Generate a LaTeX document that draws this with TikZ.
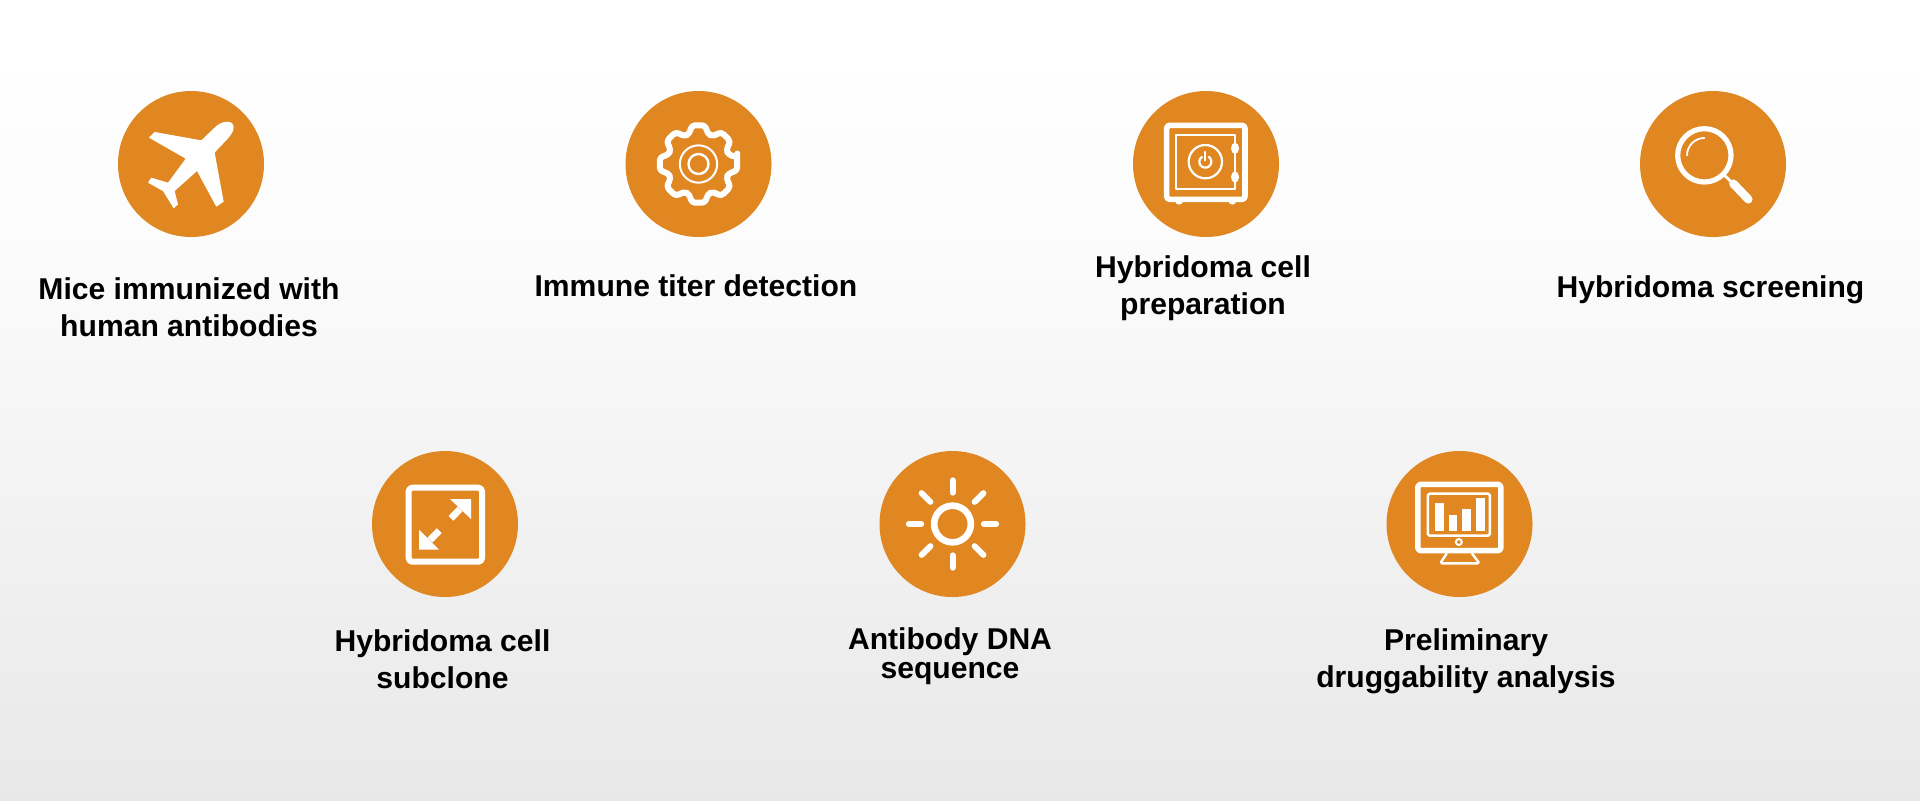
\documentclass[tikz,border=0pt]{standalone}
\usepackage{fontspec}
\setmainfont{Liberation Sans}
\definecolor{dotorange}{HTML}{E08722}
\pgfdeclareverticalshading{bgfade}{100bp}{color(0bp)=(black!9); color(25bp)=(black!9); color(48bp)=(black!4); color(59bp)=(black!1.5); color(72bp)=(white); color(100bp)=(white)}
\tikzset{
  dotnode/.style={circle,fill=dotorange,minimum size=146pt*0.5,inner sep=0pt},
  labelnode/.style={align=center,font=\fontsize{15.05pt}{18.5pt}\selectfont\bfseries,text=black,inner sep=0pt},
  icon/.style={shift={(#1)},x=0.16667pt,y=-0.16667pt,white,line join=round},
}
\begin{document}
\begin{tikzpicture}[x=0.5pt,y=-0.5pt]
  \useasboundingbox (0,0) rectangle (1920,800);
  \shade[shading=bgfade] (0,0) rectangle (1920,800);
  \foreach \name/\x/\y in {mice/191/164,titer/698.5/164,cell/1206/164,screen/1713/164,
      subclone/445/524,sun/952.5/524,drug/1459.5/524}
    \node[dotnode] (\name) at (\x,\y) {};
  \node[labelnode] (micetext) at (189,307) {Mice immunized with\\human antibodies};
  \node[labelnode] (titertext) at (696,286) {Immune titer detection};
  \node[labelnode] (celltext) at (1203,288) {Hybridoma cell\\preparation};
  \node[labelnode] (screentext) at (1710.5,290) {Hybridoma screening};
  \node[labelnode] (subclonetext) at (442.5,659) {Hybridoma cell\\subclone};
  \node[labelnode,font=\fontsize{15.05pt}{14.5pt}\selectfont\bfseries] (suntext) at (950,656) {Antibody DNA\\sequence};
  \node[labelnode] (drugtext) at (1466,661) {Preliminary\\druggability analysis};
  % plane
  \begin{scope}[icon=mice]
    \fill (-126,-79) -- (-109,-96) -- (31,-71) -- (76,-114)
      .. controls (95,-130) and (128,-134) .. (128,-109)
      .. controls (128,-88) and (95,-62) .. (71,-34)
      -- (98,113) -- (76,128) -- (18,21) -- (-49,81) -- (-39,121) -- (-52,133)
      -- (-84,81) -- (-129,56) -- (-119,41) -- (-69,56) -- (-16,-16) -- cycle;
  \end{scope}
  % gear
  \begin{scope}[icon=titer]
    \draw[line width=3pt,rounded corners=1.8pt] (-10:118)
      foreach \a in {0,45,...,315}{ -- (\a-10:118) -- (\a+10:118) -- (\a+17:94) -- (\a+28:94) } -- cycle;
    \draw[line width=1pt] (0,0) circle (56);
    \draw[line width=1.2pt] (0,0) circle (30);
  \end{scope}
  % safe
  \begin{scope}[icon=cell]
    \draw[line width=2.8pt,rounded corners=1.5pt] (-118,-116) rectangle (117,106);
    \draw[line width=1.1pt] (-90,-86) -- (87,-86) -- (87,76) -- (-90,76) -- cycle;
    \draw[line width=1.1pt] (-2,-7) circle (50);
    \draw[line width=1.1pt] (-2,-7) ++(-60:18) arc (-60:240:18);
    \draw[line width=1.1pt,line cap=round] (-2,-36) -- (-2,-11);
    \foreach \y in {-47,39}
      \fill (87,\y) ellipse (12 and 17);
    \foreach \x in {-81,79}
      \fill (\x,110) circle (12);
  \end{scope}
  % magnifier
  \begin{scope}[icon=screen]
    \draw[line width=2.6pt] (-26,-26) circle (80);
    \draw[line width=0.9pt,line cap=round] (-78,-26) arc (180:270:52);
    \draw[line width=1.4pt] (30,30) -- (61,59);
    \draw[line width=4.2pt,line cap=round] (61,59) -- (106,106);
  \end{scope}
  % expand
  \begin{scope}[icon=subclone]
    \draw[line width=3pt,rounded corners=1.8pt] (-109,-109) rectangle (111,113);
    \fill (15,-75) -- (78,-75) -- (78,-15) -- cycle;
    \fill (-78,17) -- (-78,77) -- (-18,77) -- cycle;
    \draw[line width=3.4pt] (45,-45) -- (18,-17);
    \draw[line width=3.4pt] (-45,48) -- (-17,20);
  \end{scope}
  % sun
  \begin{scope}[icon=sun]
    \draw[line width=3.3pt] (0,0) circle (55);
    \foreach \a in {0,45,...,315}
      \draw[line width=3pt,line cap=round] (\a:94) -- (\a:131);
  \end{scope}
  % monitor
  \begin{scope}[icon=drug]
    \draw[line width=2.8pt,rounded corners=1.5pt] (-125,-119) rectangle (124,80);
    \draw[line width=1.2pt,rounded corners=0.8pt] (-95,-91) rectangle (91,35);
    \foreach \xa/\xb/\ya in {-74/-48/-62,-33/-8/-27,7/35/-46,49/75/-77}
      \fill (\xa,\ya) rectangle (\xb,22);
    \draw[line width=1pt] (-2,54) circle (9);
    \draw[line width=1.2pt,rounded corners=0.8pt] (-38,88) -- (-58,118) -- (60,118) -- (37,88);
  \end{scope}
\end{tikzpicture}
\end{document}
